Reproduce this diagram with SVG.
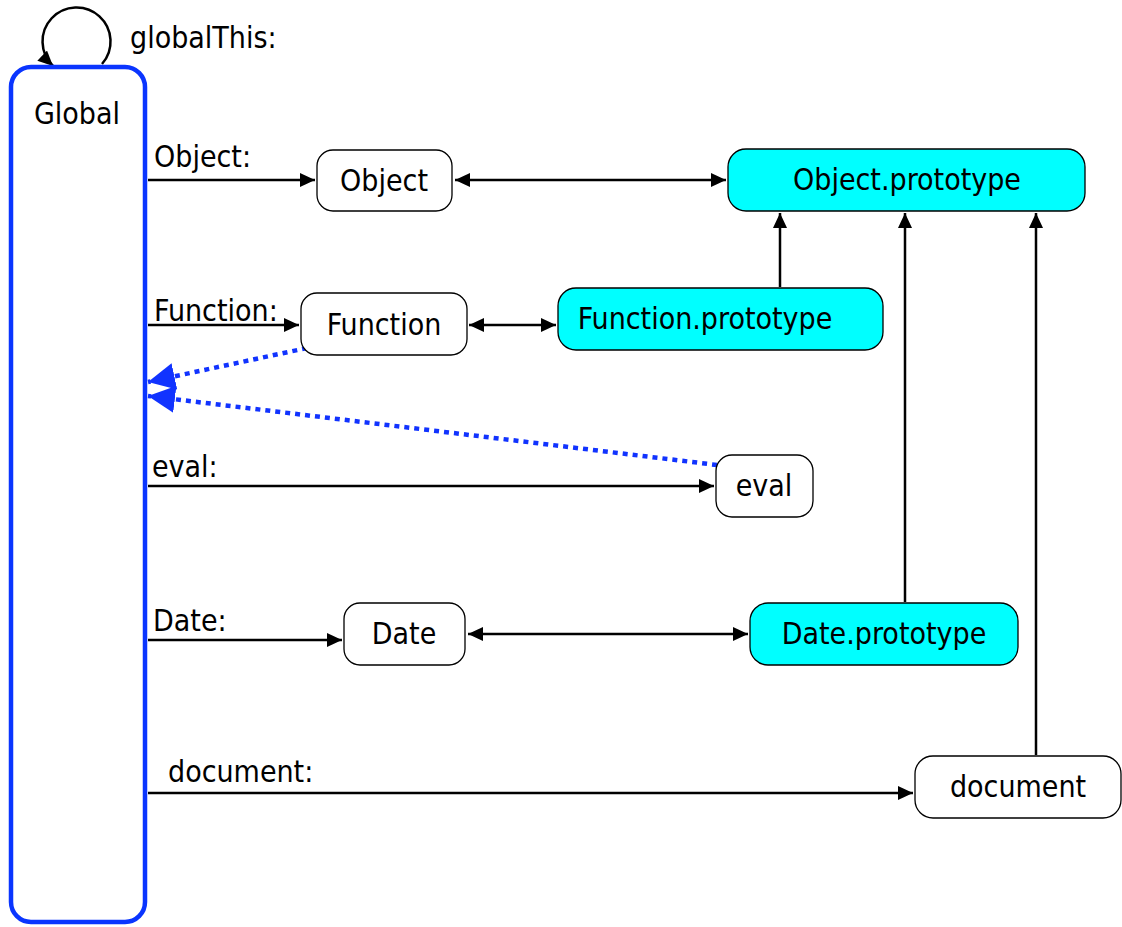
<svg xmlns="http://www.w3.org/2000/svg" width="1122" height="927" viewBox="0 0 1122 927">
<style>
text{font-family:"DejaVu Sans Condensed","DejaVu Sans",sans-serif;font-size:30px;fill:#000}
.c{text-anchor:middle}
.n{fill:#fff;stroke:#000;stroke-width:1.3}
.p{fill:#00ffff;stroke:#000;stroke-width:1.3}
.e{fill:none;stroke:#000;stroke-width:2.5}
.b{fill:none;stroke:#1133ff;stroke-width:4.5;stroke-dasharray:5 5}
</style>
<defs>
<marker id="a" viewBox="0 0 15 14" refX="15" refY="7" markerWidth="6" markerHeight="5.6" markerUnits="strokeWidth" orient="auto-start-reverse"><path d="M0,0L15,7L0,14z" fill="#000"/></marker>
<marker id="ab" viewBox="0 0 10 10" refX="10" refY="5" markerWidth="6" markerHeight="6" markerUnits="strokeWidth" orient="auto"><path d="M0,0L10,5L0,10z" fill="#1133ff"/></marker>
</defs>
<g id="connectors">
<path class="e" d="M102,64 A34,34 0 1 0 53,66" marker-end="url(#a)"/>
<line class="e" x1="148" y1="180" x2="315" y2="180" marker-end="url(#a)"/>
<line class="e" x1="455" y1="180" x2="726" y2="180" marker-start="url(#a)" marker-end="url(#a)"/>
<line class="e" x1="148" y1="325" x2="299" y2="325" marker-end="url(#a)"/>
<line class="e" x1="469" y1="325" x2="556" y2="325" marker-start="url(#a)" marker-end="url(#a)"/>
<line class="e" x1="780" y1="287" x2="780" y2="213" marker-end="url(#a)"/>
<line class="e" x1="148" y1="486" x2="714" y2="486" marker-end="url(#a)"/>
<line class="e" x1="148" y1="640" x2="342" y2="640" marker-end="url(#a)"/>
<line class="e" x1="468" y1="634" x2="748" y2="634" marker-start="url(#a)" marker-end="url(#a)"/>
<line class="e" x1="905" y1="602" x2="905" y2="213" marker-end="url(#a)"/>
<line class="e" x1="148" y1="793" x2="913" y2="793" marker-end="url(#a)"/>
<line class="e" x1="1036" y1="755" x2="1036" y2="213" marker-end="url(#a)"/>
<line class="b" x1="307" y1="348" x2="148" y2="382" marker-end="url(#ab)"/>
<line class="b" x1="717" y1="465" x2="148" y2="396" marker-end="url(#ab)"/>
</g>
<g id="labels">
<text x="130" y="48">globalThis:</text>
<text x="154" y="167">Object:</text>
<text x="154" y="321">Function:</text>
<text x="152" y="477">eval:</text>
<text x="153" y="631">Date:</text>
<text x="168" y="782">document:</text>
</g>
<g id="global"><rect x="11" y="67" width="134" height="855" rx="20" fill="#fff" stroke="#0a35ff" stroke-width="4.5"/><text class="c" x="77" y="124">Global</text></g>
<g id="object"><rect class="n" x="317" y="150" width="135" height="61" rx="16"/><text class="c" x="384" y="191">Object</text></g>
<g id="objectPrototype"><rect class="p" x="728" y="149" width="357" height="62" rx="18"/><text class="c" x="907" y="190">Object.prototype</text></g>
<g id="function"><rect class="n" x="301" y="293" width="166" height="62" rx="16"/><text class="c" x="384" y="335">Function</text></g>
<g id="functionPrototype"><rect class="p" x="558" y="288" width="325" height="62" rx="18"/><text class="c" x="705" y="329">Function.prototype</text></g>
<g id="eval"><rect class="n" x="716" y="455" width="97" height="62" rx="16"/><text class="c" x="764" y="496">eval</text></g>
<g id="date"><rect class="n" x="344" y="603" width="121" height="62" rx="16"/><text class="c" x="404" y="644">Date</text></g>
<g id="datePrototype"><rect class="p" x="750" y="603" width="268" height="62" rx="18"/><text class="c" x="884" y="644">Date.prototype</text></g>
<g id="document"><rect class="n" x="915" y="756" width="206" height="62" rx="18"/><text class="c" x="1018" y="797">document</text></g>
</svg>
